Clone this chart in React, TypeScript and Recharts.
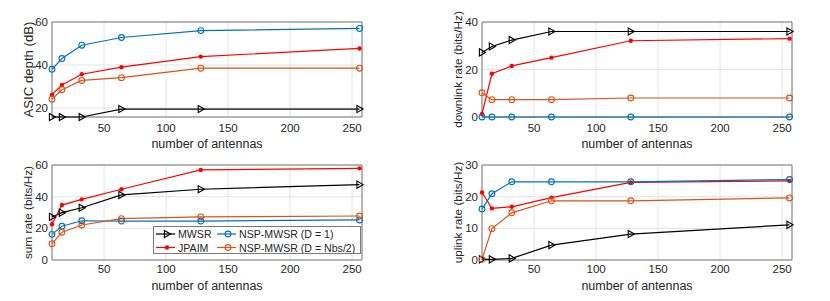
import React from 'react';
import { LineChart, Line, XAxis, YAxis, CartesianGrid, ReferenceArea } from 'recharts';

const antennas = [8, 16, 32, 64, 128, 256];

// ASIC depth (dB)
const asicMwsr = [15.8, 15.8, 15.8, 19.5, 19.5, 19.5];
const asicJpaim = [26.2, 30.7, 35.7, 39.0, 43.9, 47.7];
const asicNspD1 = [38.0, 43.0, 49.2, 52.8, 56.0, 57.0];
const asicNspHalf = [24.1, 28.5, 32.8, 34.1, 38.5, 38.5];

// downlink rate (bits/Hz)
const dlMwsr = [27.2, 29.7, 32.4, 36.0, 36.0, 36.0];
const dlJpaim = [1.3, 18.2, 21.5, 25.0, 32.1, 33.0];
const dlNspD1 = [0, 0, 0, 0, 0, 0];
const dlNspHalf = [10.2, 7.3, 7.3, 7.3, 8.0, 8.0];

// sum rate (bits/Hz)
const sumMwsr = [27.2, 29.9, 33.0, 41.1, 44.7, 47.6];
const sumJpaim = [22.6, 34.7, 38.3, 44.7, 56.9, 57.9];
const sumNspD1 = [16.2, 21.3, 24.8, 24.6, 24.6, 25.3];
const sumNspHalf = [10.3, 17.5, 22.1, 26.1, 27.2, 27.8];

// uplink rate (bits/Hz)
const ulMwsr = [0.2, 0.2, 0.5, 4.7, 8.2, 11.1];
const ulJpaim = [21.3, 16.3, 16.8, 19.7, 24.5, 25.0];
const ulNspD1 = [16.1, 20.9, 24.7, 24.7, 24.7, 25.4];
const ulNspHalf = [0.2, 9.9, 14.9, 18.7, 18.7, 19.6];

const xTicks = [50, 100, 150, 200, 250];
const xDomain = [8, 258];

const FONT = '"Liberation Sans", Arial, Helvetica, sans-serif';
const TEXT = '#262626';
const BOX = '#7a7a7a';

const series = [
  { key: 'mwsr', name: 'MWSR', color: '#000000', marker: 'tri' },
  { key: 'jpaim', name: 'JPAIM', color: '#FF0000', marker: 'dot' },
  { key: 'nspD1', name: 'NSP-MWSR (D = 1)', color: '#0072BD', marker: 'circle' },
  { key: 'nspHalf', name: 'NSP-MWSR (D = Nbs/2)', color: '#D95319', marker: 'circle' },
];

const rows = (a: number[], b: number[], c: number[], d: number[]) =>
  antennas.map((n, i) => ({ n, mwsr: a[i], jpaim: b[i], nspD1: c[i], nspHalf: d[i] }));

const drawMarker = (kind: string, color: string, cx: number, cy: number, key?: any) => {
  if (kind === 'tri') {
    return (
      <path key={key} d={`M${cx - 2.6},${cy - 3.6} L${cx + 3.6},${cy} L${cx - 2.6},${cy + 3.6} Z`}
        fill="none" stroke={color} strokeWidth={1.1} />
    );
  }
  if (kind === 'dot') {
    return <circle key={key} cx={cx} cy={cy} r={2.2} fill={color} stroke="none" />;
  }
  return <circle key={key} cx={cx} cy={cy} r={2.9} fill="none" stroke={color} strokeWidth={1.1} />;
};

interface PanelProps {
  left: number;
  top: number;
  height: number;
  plotLeft: number;
  plotTop: number;
  plotRight: number;
  plotBottom: number;
  data: any[];
  yDomain: number[];
  yTicks: number[];
  yLabel: string;
  yLabelSize: number;
  tickGap: number;
  xLabelOffset: number;
}

const Panel = ({ left, top, height, plotLeft, plotTop, plotRight, plotBottom, data, yDomain, yTicks, yLabel, yLabelSize, tickGap, xLabelOffset }: PanelProps) => {
  const width = 415;
  return (
    <div style={{ position: 'absolute', left, top, width, height }}>
      <LineChart width={width} height={height} data={data}
        margin={{ top: plotTop, right: width - plotRight, bottom: 0, left: 0 }}>
        <CartesianGrid stroke="#e3e3e3" strokeWidth={1} />
        <XAxis dataKey="n" type="number" domain={xDomain} ticks={xTicks}
          height={height - plotBottom} axisLine={false} tickLine={false} tickSize={0} tickMargin={tickGap}
          tick={{ fill: TEXT, fontSize: 11.5, fontFamily: FONT }}
          label={{ value: 'number of antennas', position: 'insideBottom', offset: xLabelOffset, fill: TEXT, fontSize: 12.5, fontFamily: FONT }} />
        <YAxis type="number" domain={yDomain} ticks={yTicks}
          width={plotLeft} axisLine={false} tickLine={false} tickSize={0} tickMargin={4}
          tick={{ fill: TEXT, fontSize: 11.5, fontFamily: FONT }}
          label={{ value: yLabel, angle: -90, position: 'insideLeft', offset: plotLeft - 24, fill: TEXT, fontSize: yLabelSize, fontFamily: FONT, style: { textAnchor: 'middle' } }} />
        <ReferenceArea x1={xDomain[0]} x2={xDomain[1]} y1={yDomain[0]} y2={yDomain[1]}
          fill="none" stroke={BOX} strokeWidth={1} ifOverflow="visible" />
        {series.map((s) => (
          <Line key={s.key} dataKey={s.key} type="linear" stroke={s.color} strokeWidth={1.2}
            isAnimationActive={false}
            dot={(p: any) => drawMarker(s.marker, s.color, p.cx, p.cy, `${s.key}-${p.index}`)}
            activeDot={false} />
        ))}
      </LineChart>
    </div>
  );
};

const LegendBox = () => (
  <div style={{ position: 'absolute', left: 153, top: 226, width: 206, height: 26, background: '#fff', border: `1px solid ${BOX}` }}>
    <svg width={206} height={26} style={{ display: 'block' }}>
      {series.map((s, i) => {
        const col = Math.floor(i / 2);
        const row = i % 2;
        const x0 = col === 0 ? 2 : 63;
        const y = row === 0 ? 7 : 20.5;
        return (
          <g key={s.key}>
            <line x1={x0} x2={x0 + 19} y1={y} y2={y} stroke={s.color} strokeWidth={1.2} />
            {drawMarker(s.marker, s.color, x0 + 11, y)}
            <text x={x0 + 22} y={y + 4} fontSize={10.6} fontFamily={FONT} fill={TEXT}>{s.name}</text>
          </g>
        );
      })}
    </svg>
  </div>
);

export default function App() {
  return (
    <div style={{ position: 'absolute', left: 0, top: 0, width: 830, height: 301, background: '#fff', fontFamily: FONT }}>
      <Panel left={0} top={0} height={150} plotLeft={52} plotTop={22} plotRight={362} plotBottom={117}
        data={rows(asicMwsr, asicJpaim, asicNspD1, asicNspHalf)} yDomain={[15.8, 60]} yTicks={[20, 40, 60]}
        yLabel="ASIC depth (dB)" yLabelSize={13.2} tickGap={6.5} xLabelOffset={2} />
      <Panel left={415} top={0} height={150} plotLeft={67} plotTop={22} plotRight={377} plotBottom={117}
        data={rows(dlMwsr, dlJpaim, dlNspD1, dlNspHalf)} yDomain={[0, 40]} yTicks={[0, 20, 40]}
        yLabel="downlink rate (bits/Hz)" yLabelSize={11.8} tickGap={6.5} xLabelOffset={2} />
      <Panel left={0} top={150} height={151} plotLeft={52} plotTop={15} plotRight={362} plotBottom={110}
        data={rows(sumMwsr, sumJpaim, sumNspD1, sumNspHalf)} yDomain={[0, 60]} yTicks={[0, 20, 40, 60]}
        yLabel="sum rate (bits/Hz)" yLabelSize={11.8} tickGap={5} xLabelOffset={11.5} />
      <Panel left={415} top={150} height={151} plotLeft={67} plotTop={15} plotRight={377} plotBottom={110}
        data={rows(ulMwsr, ulJpaim, ulNspD1, ulNspHalf)} yDomain={[0, 30]} yTicks={[0, 10, 20, 30]}
        yLabel="uplink rate (bits/Hz)" yLabelSize={11.8} tickGap={5} xLabelOffset={11.5} />
      <LegendBox />
    </div>
  );
}
